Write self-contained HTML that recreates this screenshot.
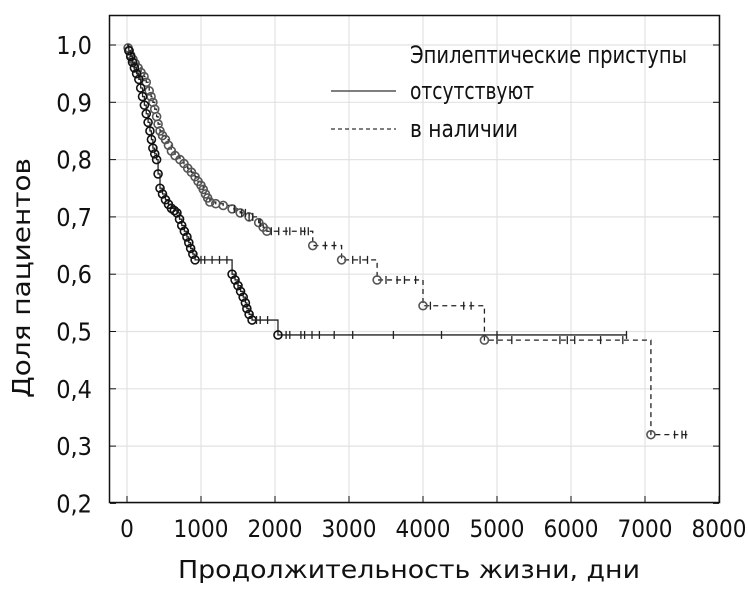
<!DOCTYPE html>
<html><head><meta charset="utf-8"><style>
html,body{margin:0;padding:0;background:#fff;}
svg{display:block;font-family:"DejaVu Sans Condensed","Liberation Sans",sans-serif;}
</style></head><body>
<svg id="chart" width="748" height="593" viewBox="0 0 748 593" xmlns="http://www.w3.org/2000/svg">
<g id="grid"></g>
<g id="ticks"></g>
<g id="series"></g>
<rect x="109.5" y="15.5" width="610" height="487" fill="none" stroke="#111" stroke-width="1.5"/>
<g>
<text x="410" y="63" font-size="24" textLength="277" lengthAdjust="spacingAndGlyphs" fill="#111">Эпилептические приступы</text>
<line x1="331" y1="91" x2="396" y2="91" stroke="#333" stroke-width="1.3"/>
<text x="410" y="99" font-size="24" textLength="124" lengthAdjust="spacingAndGlyphs" fill="#111">отсутствуют</text>
<line x1="331" y1="129" x2="396" y2="129" stroke="#333" stroke-width="1.3" stroke-dasharray="4,3"/>
<text x="410" y="137" font-size="24" textLength="108" lengthAdjust="spacingAndGlyphs" fill="#111">в наличии</text>
</g>
<text x="409" y="578" font-size="25" text-anchor="middle" textLength="462" lengthAdjust="spacingAndGlyphs" fill="#111">Продолжительность жизни, дни</text>
<text transform="translate(30,278) rotate(-90)" font-size="25" text-anchor="middle" textLength="240" lengthAdjust="spacingAndGlyphs" fill="#111">Доля пациентов</text>
</svg>
<script>
const xTicks=[0,1000,2000,3000,4000,5000,6000,7000,8000];
const xTickLabels=["0","1000","2000","3000","4000","5000","6000","7000","8000"];
const yTicks=[1.0,0.9,0.8,0.7,0.6,0.5,0.4,0.3,0.2];
const yTickLabels=["1,0","0,9","0,8","0,7","0,6","0,5","0,4","0,3","0,2"];
const presentTimes=[0,15,30,50,80,110,150,190,230,260,300,325,350,375,400,420,446,480,520,560,600,650,716,770,820,870,920,960,1000,1030,1060,1090,1120,1200,1300,1420,1530,1650,1780,1840,1890,2510,2900,3380,4000,4830,7080];
const presentSurv=[1.0,0.995,0.99,0.982,0.975,0.968,0.96,0.952,0.945,0.935,0.92,0.91,0.90,0.888,0.875,0.862,0.85,0.842,0.835,0.825,0.815,0.807,0.80,0.793,0.785,0.778,0.77,0.762,0.755,0.748,0.74,0.733,0.726,0.723,0.72,0.714,0.707,0.70,0.69,0.682,0.675,0.65,0.625,0.59,0.545,0.485,0.32];
const presentEnd=7600;
const presentCensor=[1450,1550,1600,1650,1700,1800,1950,2050,2150,2200,2350,2400,2450,2680,2800,3050,3150,3250,3500,3650,3750,3900,4100,4550,4650,5000,5200,5850,5950,6050,6400,6700,7400,7500,7550];
const absentTimes=[0,25,50,75,100,130,160,185,210,235,260,285,310,330,350,375,400,420,446,480,520,560,600,640,675,710,740,775,810,835,860,890,920,1420,1460,1500,1535,1570,1600,1620,1650,1690,2040];
const absentSurv=[1.0,0.99,0.98,0.97,0.96,0.95,0.94,0.925,0.91,0.895,0.88,0.865,0.85,0.835,0.82,0.81,0.80,0.775,0.75,0.74,0.73,0.722,0.715,0.711,0.707,0.696,0.685,0.675,0.665,0.655,0.645,0.635,0.625,0.60,0.59,0.58,0.57,0.56,0.55,0.54,0.53,0.52,0.494];
const absentEnd=6750;
const absentCensor=[1000,1050,1150,1250,1350,1500,1750,1800,1900,2150,2200,2350,2400,2500,2600,2800,3050,3600,4250,5000,6750];

const NS="http://www.w3.org/2000/svg";
const X=t=>127+t*0.074;
const Y=s=>45+(1.0-s)*573;
function mk(tag,attrs,parent){const e=document.createElementNS(NS,tag);for(const k in attrs)e.setAttribute(k,attrs[k]);parent.appendChild(e);return e;}
const grid=document.getElementById('grid'),ticks=document.getElementById('ticks'),series=document.getElementById('series');
xTicks.forEach((t,i)=>{
 const g=mk('line',{x1:X(t),x2:X(t),y1:16,y2:502,stroke:'#e2e2e2','stroke-width':1.2},grid);
 
 
 const tk=mk('line',{x1:X(t),x2:X(t),y1:496,y2:502,stroke:'#111','stroke-width':1},ticks);
 
 
 const tx=mk('text',{x:X(t),y:537,'font-size':24,'text-anchor':'middle',fill:'#111'},ticks);
 
 
 tx.textContent=xTickLabels[i];
});
yTicks.forEach((s,i)=>{
 const g=mk('line',{x1:110,x2:719,y1:Y(s),y2:Y(s),stroke:'#e2e2e2','stroke-width':1.2},grid);
 
 
 const tk=mk('line',{x1:110,x2:116,y1:Y(s),y2:Y(s),stroke:'#111','stroke-width':1},ticks);
 
 
 const tk2=mk('line',{x1:713,x2:719,y1:Y(s),y2:Y(s),stroke:'#111','stroke-width':1},ticks);
 
 
 const tx=mk('text',{x:92,y:Y(s)+9,'font-size':25,'text-anchor':'end',fill:'#111'},ticks);
 
 
 tx.textContent=yTickLabels[i];
});
function survAt(times,surv,t){let s=surv[0];for(let i=0;i<times.length;i++){if(times[i]<=t)s=surv[i];}return s;}
function drawSeries(name,times,surv,end,censor,dash,color){
 const g=mk('g',{},series);
 
 
 let d='M'+X(times[0])+','+Y(surv[0]);
 for(let i=1;i<times.length;i++){d+=' H'+X(times[i])+' V'+Y(surv[i]);}
 d+=' H'+X(end);
 const p=mk('path',{d:d,fill:'none',stroke:'#222','stroke-width':1.3,'stroke-dasharray':dash},g);
 
 
 for(let i=1;i<times.length;i++){
  const c=mk('circle',{cx:X(times[i]),cy:Y(surv[i]),r:4,fill:'none',stroke:color,'stroke-width':1.6},g);
  
  
 }
 censor.forEach(t=>{
  const y=Y(survAt(times,surv,t));
  const l=mk('line',{x1:X(t),x2:X(t),y1:y-4,y2:y+4,stroke:'#222','stroke-width':1.3},g);
  
  
 });
}
drawSeries('series-present',presentTimes,presentSurv,presentEnd,presentCensor,'5,4','#555');
drawSeries('series-absent',absentTimes,absentSurv,absentEnd,absentCensor,'none','#111');
</script>
</body></html>
